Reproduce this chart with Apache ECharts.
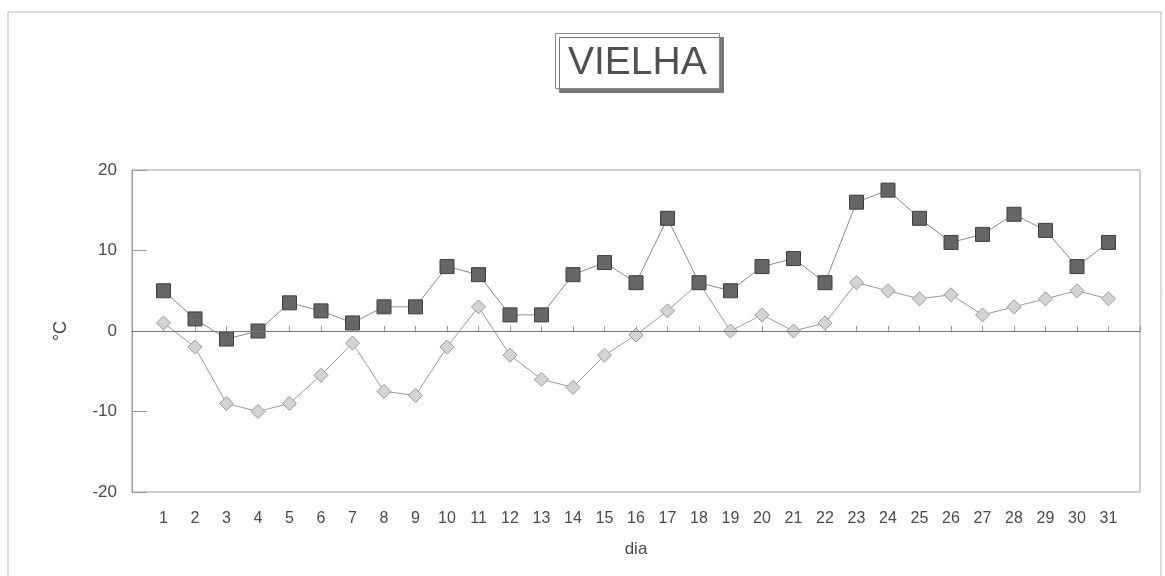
<!DOCTYPE html>
<html>
<head>
<meta charset="utf-8">
<script src="https://cdn.jsdelivr.net/npm/echarts@6/dist/echarts.min.js"></script>
<style>
    html, body { margin: 0; padding: 0; background: #fff; }
    #chart { width: 1165px; height: 576px; }
</style>
</head>
<body>
<div id="chart"></div>
<script>
// dias del mes
var dias = [1, 2, 3, 4, 5, 6, 7, 8, 9, 10, 11, 12, 13, 14, 15, 16, 17, 18, 19, 20, 21, 22, 23, 24, 25, 26, 27, 28, 29, 30, 31];
// temperatura maxima
var tMax = [5, 1.5, -1, 0, 3.5, 2.5, 1, 3, 3, 8, 7, 2, 2, 7, 8.5, 6, 14, 6, 5, 8, 9, 6, 16, 17.5, 14, 11, 12, 14.5, 12.5, 8, 11];
// temperatura minima
var tMin = [1, -2, -9, -10, -9, -5.5, -1.5, -7.5, -8, -2, 3, -3, -6, -7, -3, -0.5, 2.5, 6, 0, 2, 0, 1, 6, 5, 4, 4.5, 2, 3, 4, 5, 4];
var yTicks = [-20, -10, 0, 10, 20];

function pares(vals) {
    var out = [];
    for (var i = 0; i < dias.length; i++) {
        out.push([dias[i], vals[i]]);
    }
    return out;
}

var chart = echarts.init(document.getElementById('chart'));
var txt = '#4a4a4a';
var option = {
    animation: false,
    textStyle: { fontFamily: 'Liberation Sans' },
    graphic: [
        {
            type: 'rect',
            shape: { x: 8, y: 12, width: 1153, height: 580 },
            style: { fill: 'none', stroke: '#b8b8b8', lineWidth: 1 },
            silent: true
        }
    ],
    title: {
        text: 'VIELHA',
        left: 555,
        top: 33,
        padding: [11, 13, 6, 13],
        borderColor: '#8a8a8a',
        borderWidth: 1,
        backgroundColor: '#fff',
        shadowColor: '#777',
        shadowOffsetX: 4,
        shadowOffsetY: 4,
        shadowBlur: 0,
        textStyle: {
            fontFamily: 'Liberation Sans',
            fontSize: 39,
            fontWeight: 'normal',
            color: '#505050'
        }
    },
    grid: {
        left: 132,
        right: 25,
        top: 170,
        bottom: 84,
        show: true,
        borderColor: '#a0a0a0',
        borderWidth: 1
    },
    xAxis: {
        type: 'value',
        min: 0,
        max: 32,
        interval: 1,
        name: 'dia',
        nameLocation: 'middle',
        nameGap: 49,
        nameTextStyle: { fontSize: 17, color: txt },
        axisLine: { show: true, lineStyle: { color: '#999' } },
        axisTick: { show: true, inside: true, length: 5, lineStyle: { color: '#999' } },
        axisLabel: {
            color: txt,
            fontSize: 16,
            margin: 19,
            formatter: function (v) {
                return dias.indexOf(v) >= 0 ? String(v) : '';
            }
        },
        splitLine: { show: false }
    },
    yAxis: {
        type: 'value',
        min: yTicks[0],
        max: yTicks[yTicks.length - 1],
        interval: 10,
        name: '°C',
        nameLocation: 'middle',
        nameGap: 62,
        nameTextStyle: { fontSize: 18, color: txt },
        axisLine: { show: true, lineStyle: { color: '#999' } },
        axisTick: { show: true, inside: true, length: 15, lineStyle: { color: '#999' } },
        axisLabel: { color: txt, fontSize: 17, margin: 15 },
        splitLine: { show: false }
    },
    series: [
        {
            name: 'max',
            type: 'line',
            data: pares(tMax),
            symbol: 'rect',
            symbolSize: 14,
            lineStyle: { color: '#8a8a8a', width: 1 },
            itemStyle: { color: '#666', borderColor: '#3e3e3e', borderWidth: 1 },
            markLine: {
                silent: true,
                symbol: 'none',
                label: { show: false },
                lineStyle: { color: '#777', width: 1, type: 'solid' },
                data: [{ yAxis: 0 }]
            },
            z: 3
        },
        {
            name: 'min',
            type: 'line',
            data: pares(tMin),
            symbol: 'diamond',
            symbolSize: 14,
            lineStyle: { color: '#9a9a9a', width: 1 },
            itemStyle: { color: '#d4d4d4', borderColor: '#999', borderWidth: 1 },
            z: 2
        }
    ]
};
chart.setOption(option);
</script>
</body>
</html>
